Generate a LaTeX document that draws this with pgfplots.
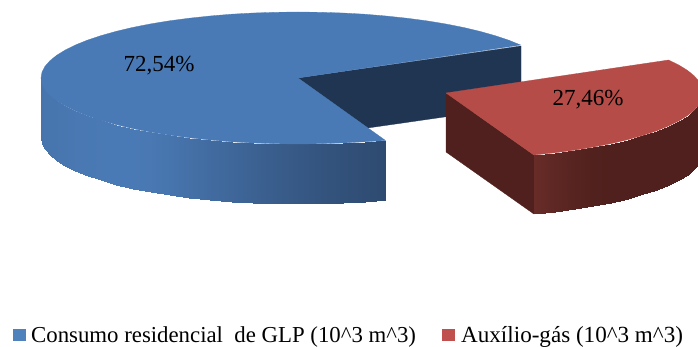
\documentclass[border=0pt]{standalone}
\usepackage{pgfplots}
\pgfplotsset{compat=1.18}
\usepackage{fontspec}
\setmainfont{Liberation Serif}
\definecolor{bluetop}{RGB}{74,122,181}
\definecolor{bluedark}{RGB}{31,53,82}
\definecolor{redtop}{RGB}{181,76,72}
\definecolor{reddark}{RGB}{79,32,29}
\definecolor{legblue}{RGB}{79,129,189}
\definecolor{legred}{RGB}{192,80,77}
\begin{document}
\begin{tikzpicture}
\begin{axis}[
  name=a,
  scale only axis, width=698pt, height=347pt,
  xmin=0, xmax=698, ymin=0, ymax=347, y dir=reverse,
  hide axis, clip=true, enlargelimits=false,
  point meta min=0, point meta max=1,
]
% blue cut face
\addplot[fill=bluedark, draw=bluedark, line width=0.3pt] coordinates {(298,78)(521,46)(521,106)(298,138)} -- cycle;
% blue outer side
\addplot[surf, shader=interp, mesh/rows=2, mesh/ordering=colwise, point meta=explicit,
  colormap={sideblue}{rgb255=(46,74,112) rgb255=(74,122,181)}] table[meta=c] {
x y c
41 78 0.88
41 138 0.88
42 83.8 0.88
42 143.8 0.88
44.9 89.5 0.89
44.9 149.5 0.89
49.8 95.1 0.9
49.8 155.1 0.9
56.5 100.6 0.91
56.5 160.6 0.91
65.1 105.9 0.93
65.1 165.9 0.93
75.4 111 0.95
75.4 171 0.95
87.5 115.9 0.97
87.5 175.9 0.97
101.1 120.4 0.99
101.1 180.4 0.99
116.3 124.7 1
116.3 184.7 1
132.8 128.6 1
132.8 188.6 1
150.6 132.1 0.95
150.6 192.1 0.95
169.5 135.2 0.88
169.5 195.2 0.88
189.4 137.8 0.8
189.4 197.8 0.8
210.1 140 0.7
210.1 200 0.7
231.5 141.8 0.6
231.5 201.8 0.6
253.4 143 0.5
253.4 203 0.5
275.6 143.7 0.4
275.6 203.7 0.4
298 144 0.3
298 204 0.3
320.4 143.7 0.22
320.4 203.7 0.22
342.6 143 0.14
342.6 203 0.14
364.5 141.8 0.07
364.5 201.8 0.07
385.5 140.5 0
385.5 200.5 0
};
% blue top face
\addplot[fill=bluetop, draw=bluetop, line width=0.3pt] coordinates {
(298,78)(520.6,45)(508.5,40.1)(494.9,35.6)(479.7,31.3)(463.2,27.4)(445.4,23.9)(426.5,20.8)(406.6,18.2)(385.9,16)(364.5,14.2)(342.6,13)(320.4,12.3)(298,12)
(275.6,12.3)(253.4,13)(231.5,14.2)(210.1,16)(189.4,18.2)(169.5,20.8)(150.6,23.9)(132.8,27.4)(116.3,31.3)(101.1,35.6)(87.5,40.1)(75.4,45)(65.1,50.1)(56.5,55.4)(49.8,60.9)(44.9,66.5)(42,72.2)(41,78)
(42,83.8)(44.9,89.5)(49.8,95.1)(56.5,100.6)(65.1,105.9)(75.4,111)(87.5,115.9)(101.1,120.4)(116.3,124.7)(132.8,128.6)(150.6,132.1)(169.5,135.2)(189.4,137.8)(210.1,140)(231.5,141.8)(253.4,143)(275.6,143.7)(298,144)(320.4,143.7)(342.6,143)(364.5,141.8)(385.5,140.5)
} -- cycle;
% red cut face
\addplot[fill=reddark, draw=reddark, line width=0.3pt] coordinates {(446,93)(533.9,155)(533.9,214)(446,152)} -- cycle;
% red outer side
\addplot[surf, shader=interp, mesh/rows=2, mesh/ordering=colwise, point meta=explicit,
  colormap={sidered}{rgb255=(79,32,29) rgb255=(104,44,40)}] table[meta=c] {
x y c
533.9 155 1
533.9 214 1
554.6 152.8 0.6
554.6 211.8 0.6
574.5 150.2 0.3
574.5 209.2 0.3
593.4 147.1 0.08
593.4 206.1 0.08
611.2 143.6 0
611.2 202.6 0
627.7 139.7 0
627.7 198.7 0
642.9 135.4 0
642.9 194.4 0
656.5 130.9 0
656.5 189.9 0
668.6 126 0
668.6 185 0
678.9 120.9 0
678.9 179.9 0
687.5 115.6 0
687.5 174.6 0
694.2 110.1 0
694.2 169.1 0
699.1 104.5 0
699.1 163.5 0
702 98.8 0
702 157.8 0
};
% red top face
\addplot[fill=redtop, draw=redtop, line width=0.3pt] coordinates {
(446,93)(668.6,60)(678.9,65.1)(687.5,70.4)(694.2,75.9)(699.1,81.5)(702,87.2)(703,93)(702,98.8)(699.1,104.5)(694.2,110.1)(687.5,115.6)(678.9,120.9)(668.6,126)(656.5,130.9)(642.9,135.4)(627.7,139.7)(611.2,143.6)(593.4,147.1)(574.5,150.2)(554.6,152.8)(533.9,155)
} -- cycle;
% legend keys
\addplot[fill=legblue, draw=none] coordinates {(13,329)(26,329)(26,340.5)(13,340.5)} -- cycle;
\addplot[fill=legred, draw=none] coordinates {(442,329)(455,329)(455,340.5)(442,340.5)} -- cycle;
\node[font=\fontsize{23}{23}\selectfont, inner sep=0pt] at (axis cs:159,65.5) {72,54\%};
\node[font=\fontsize{23}{23}\selectfont, inner sep=0pt] at (axis cs:588,99.5) {27,46\%};
\node[font=\fontsize{22.8}{22.8}\selectfont, inner sep=0pt, anchor=base west] at (axis cs:31,342) {Consumo residencial\ \ de GLP (10\textasciicircum 3 m\textasciicircum 3)};
\node[font=\fontsize{23.1}{23.1}\selectfont, inner sep=0pt, anchor=base west] at (axis cs:461,342) {Auxílio-gás (10\textasciicircum 3 m\textasciicircum 3)};
\end{axis}
\useasboundingbox (a.south west) rectangle (a.north east);
\end{tikzpicture}
\end{document}
